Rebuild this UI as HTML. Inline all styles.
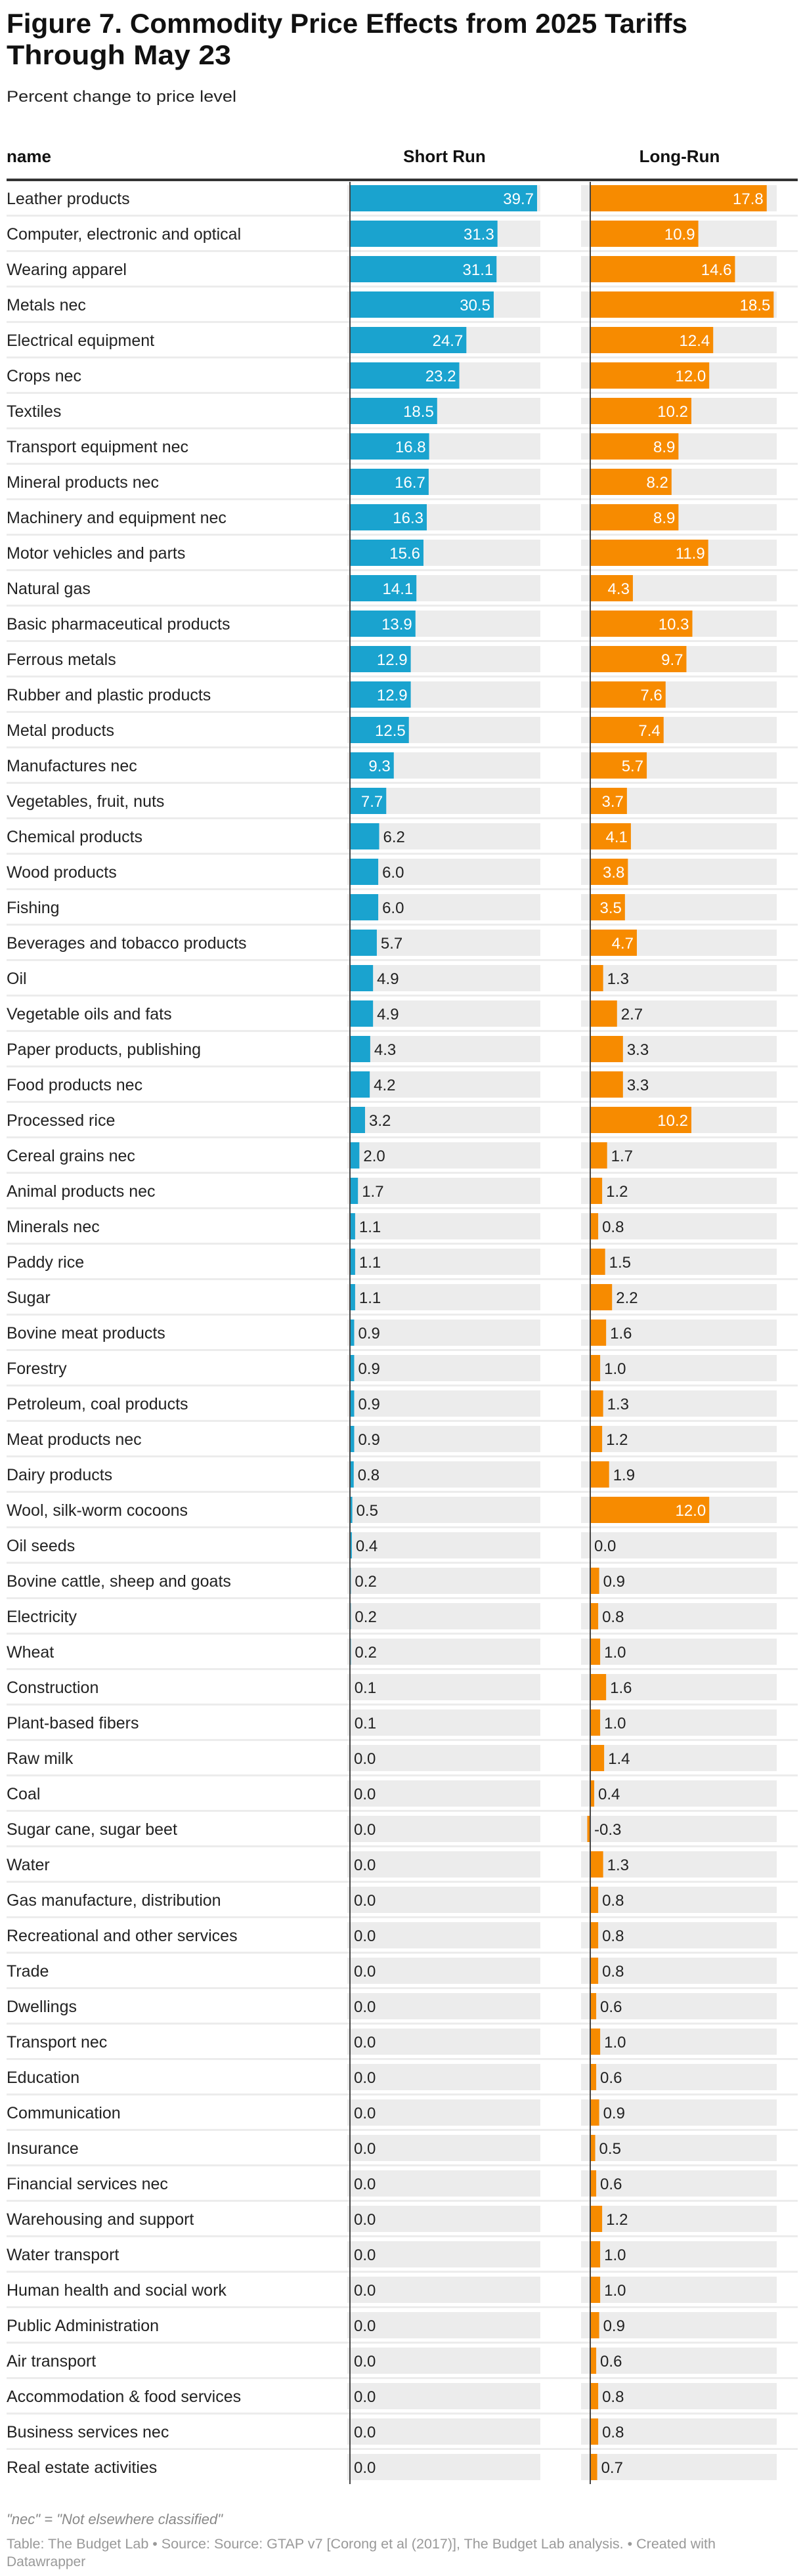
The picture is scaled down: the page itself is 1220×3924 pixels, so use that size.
<!DOCTYPE html>
<html><head><meta charset="utf-8">
<style>
html,body{margin:0;padding:0;background:#fff;}
body{width:1220px;height:3924px;overflow:hidden;font-family:"Liberation Sans",sans-serif;}
svg{display:block;}
</style></head>
<body>
<svg id="chart" width="1220" height="3924" xmlns="http://www.w3.org/2000/svg">
<text x="10" y="50" font-size="42" font-weight="bold" fill="#111" textLength="1037" lengthAdjust="spacingAndGlyphs">Figure 7. Commodity Price Effects from 2025 Tariffs</text>
<text x="10" y="98" font-size="42" font-weight="bold" fill="#111" textLength="342" lengthAdjust="spacingAndGlyphs">Through May 23</text>
<text x="10" y="155" font-size="24" fill="#222" textLength="350" lengthAdjust="spacingAndGlyphs">Percent change to price level</text>
<text x="10" y="247" font-size="26" font-weight="bold" fill="#111">name</text>
<text x="677" y="247" font-size="26" font-weight="bold" fill="#111" text-anchor="middle">Short Run</text>
<text x="1035" y="247" font-size="26" font-weight="bold" fill="#111" text-anchor="middle">Long-Run</text>
<rect x="10" y="272" width="1205" height="4" fill="#333"/>
<g id="rows"></g>
<text x="10" y="3845" font-size="22" font-style="italic" fill="#888">"nec" = "Not elsewhere classified"</text>
<text x="10" y="3882" font-size="21" fill="#999" textLength="1080" lengthAdjust="spacingAndGlyphs">Table: The Budget Lab • Source: Source: GTAP v7 [Corong et al (2017)], The Budget Lab analysis. • Created with</text>
<text x="10" y="3909" font-size="21" fill="#999">Datawrapper</text>
</svg>
<script>
const categories = ["Leather products","Computer, electronic and optical","Wearing apparel","Metals nec","Electrical equipment","Crops nec","Textiles","Transport equipment nec","Mineral products nec","Machinery and equipment nec","Motor vehicles and parts","Natural gas","Basic pharmaceutical products","Ferrous metals","Rubber and plastic products","Metal products","Manufactures nec","Vegetables, fruit, nuts","Chemical products","Wood products","Fishing","Beverages and tobacco products","Oil","Vegetable oils and fats","Paper products, publishing","Food products nec","Processed rice","Cereal grains nec","Animal products nec","Minerals nec","Paddy rice","Sugar","Bovine meat products","Forestry","Petroleum, coal products","Meat products nec","Dairy products","Wool, silk-worm cocoons","Oil seeds","Bovine cattle, sheep and goats","Electricity","Wheat","Construction","Plant-based fibers","Raw milk","Coal","Sugar cane, sugar beet","Water","Gas manufacture, distribution","Recreational and other services","Trade","Dwellings","Transport nec","Education","Communication","Insurance","Financial services nec","Warehousing and support","Water transport","Human health and social work","Public Administration","Air transport","Accommodation & food services","Business services nec","Real estate activities"];
const shortRun = [39.7,31.3,31.1,30.5,24.7,23.2,18.5,16.8,16.7,16.3,15.6,14.1,13.9,12.9,12.9,12.5,9.3,7.7,6.2,6.0,6.0,5.7,4.9,4.9,4.3,4.2,3.2,2.0,1.7,1.1,1.1,1.1,0.9,0.9,0.9,0.9,0.8,0.5,0.4,0.2,0.2,0.2,0.1,0.1,0.0,0.0,0.0,0.0,0.0,0.0,0.0,0.0,0.0,0.0,0.0,0.0,0.0,0.0,0.0,0.0,0.0,0.0,0.0,0.0,0.0];
const longRun = [17.8,10.9,14.6,18.5,12.4,12.0,10.2,8.9,8.2,8.9,11.9,4.3,10.3,9.7,7.6,7.4,5.7,3.7,4.1,3.8,3.5,4.7,1.3,2.7,3.3,3.3,10.2,1.7,1.2,0.8,1.5,2.2,1.6,1.0,1.3,1.2,1.9,12.0,0.0,0.9,0.8,1.0,1.6,1.0,1.4,0.4,-0.3,1.3,0.8,0.8,0.8,0.6,1.0,0.6,0.9,0.5,0.6,1.2,1.0,1.0,0.9,0.6,0.8,0.8,0.7];

const NS="http://www.w3.org/2000/svg";
const g=document.getElementById('rows');
const sAxis=533, sScale=285/39.7, sBgL=529, sBgR=823;
const lAxis=899, lScale=15.1, lBgL=885, lBgR=1183;
const xS=v=>sAxis+v*sScale, xL=v=>lAxis+v*lScale;
const rowTop=i=>282+54*i;
function mk(tag,attrs){const e=document.createElementNS(NS,tag);for(const k in attrs)e.setAttribute(k,attrs[k]);g.appendChild(e);return e;}
function bar(v,xf,axis,bgL,bgR,y,color,name){
  const bg=mk('rect',{x:bgL,y:y,width:bgR-bgL,height:40,fill:'#ececec'});
  
  
  const x0=Math.min(axis,xf(v)), w=Math.abs(xf(v)-axis);
  const r=mk('rect',{x:x0,y:y,width:w,height:40,fill:color});
  
  
  const t=mk('text',{y:y+29,'font-size':24});
  t.textContent=v.toFixed(1);
  if(w>52){t.setAttribute('x',xf(v)-5);t.setAttribute('text-anchor','end');t.setAttribute('fill','#fff');}
  else {t.setAttribute('x',Math.max(axis,xf(v))+6);t.setAttribute('fill','#222');}
  
  
}
categories.forEach((c,i)=>{
  const y=rowTop(i);
  if(i>0){const s=mk('rect',{x:10,y:y-9,width:1205,height:3,fill:'#ececec'});
    
    }
  const lab=mk('text',{x:10,y:y+29,'font-size':25,fill:'#222'});
  lab.textContent=c;
  
  
  bar(shortRun[i],xS,sAxis,sBgL,sBgR,y,'#1aa3cf','short-run-bar');
  bar(longRun[i],xL,lAxis,lBgL,lBgR,y,'#f78b00','long-run-bar');
});
const endY=rowTop(categories.length-1)+46;
const a1=mk('rect',{x:sAxis-1,y:277,width:2,height:endY-277,fill:'#444'});


const a2=mk('rect',{x:lAxis-1,y:277,width:2,height:endY-277,fill:'#444'});


</script>
</body></html>
